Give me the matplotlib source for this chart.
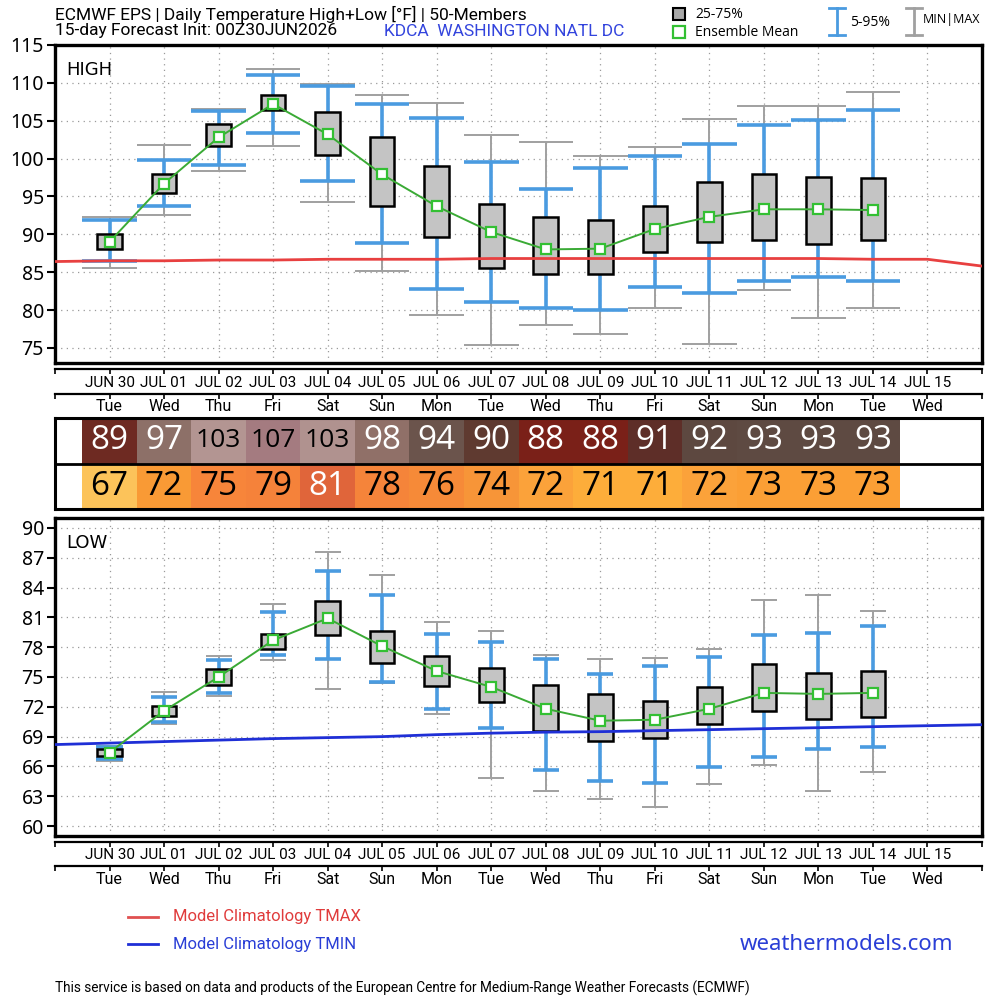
import numpy as np
import matplotlib
matplotlib.use("Agg")
import matplotlib.pyplot as plt

# ---- data ----
dates = ['JUN 30', 'JUL 01', 'JUL 02', 'JUL 03', 'JUL 04', 'JUL 05', 'JUL 06', 'JUL 07',
         'JUL 08', 'JUL 09', 'JUL 10', 'JUL 11', 'JUL 12', 'JUL 13', 'JUL 14', 'JUL 15']
weekdays = ['Tue', 'Wed', 'Thu', 'Fri', 'Sat', 'Sun', 'Mon', 'Tue',
            'Wed', 'Thu', 'Fri', 'Sat', 'Sun', 'Mon', 'Tue', 'Wed']

hi_min = [85.6, 92.6, 98.3, 101.7, 94.2, 85.1, 79.3, 75.4, 78.0, 76.8, 80.3, 75.5, 82.7, 78.9, 80.2]
hi_p05 = [86.5, 93.8, 99.2, 103.4, 97.0, 88.9, 82.8, 81.0, 80.3, 80.0, 83.1, 82.2, 83.8, 84.4, 83.8]
hi_p25 = [88.1, 95.4, 101.6, 106.4, 100.5, 93.8, 89.7, 85.5, 84.7, 84.8, 87.7, 89.0, 89.3, 88.7, 89.2]
hi_p75 = [90.0, 98.0, 104.6, 108.4, 106.2, 102.9, 99.0, 94.0, 92.3, 91.9, 93.8, 96.9, 98.0, 97.5, 97.4]
hi_p95 = [91.9, 99.8, 106.3, 111.1, 109.6, 107.2, 105.3, 99.5, 96.0, 98.7, 100.4, 101.9, 104.4, 105.1, 106.4]
hi_max = [92.3, 101.8, 106.6, 111.8, 109.9, 108.4, 107.4, 103.1, 102.2, 100.4, 101.5, 105.2, 107.0, 106.9, 108.8]
hi_mean = [89.0, 96.7, 102.8, 107.2, 103.2, 97.9, 93.7, 90.3, 88.0, 88.1, 90.7, 92.3, 93.3, 93.3, 93.2]

lo_min = [66.5, 70.3, 73.1, 76.7, 73.8, 74.4, 71.3, 64.8, 63.5, 62.7, 61.9, 64.2, 66.1, 63.5, 65.4]
lo_p05 = [66.7, 70.5, 73.4, 77.2, 76.8, 74.5, 71.8, 69.9, 65.6, 64.5, 64.3, 65.9, 66.9, 67.8, 68.0]
lo_p25 = [67.1, 71.1, 74.2, 77.8, 79.2, 76.4, 74.1, 72.5, 69.6, 68.6, 68.9, 70.3, 71.6, 70.8, 71.0]
lo_p75 = [67.8, 72.1, 75.8, 79.3, 82.6, 79.6, 77.1, 75.9, 74.2, 73.3, 72.6, 74.0, 76.3, 75.4, 75.6]
lo_p95 = [68.0, 73.0, 76.7, 81.5, 85.7, 83.3, 79.3, 78.5, 76.8, 75.3, 76.1, 77.0, 79.2, 79.4, 80.1]
lo_max = [68.1, 73.5, 77.1, 82.3, 87.6, 85.3, 80.5, 79.6, 77.2, 76.8, 76.9, 77.8, 82.7, 83.3, 81.6]
lo_mean = [67.4, 71.6, 75.0, 78.7, 80.9, 78.1, 75.6, 74.0, 71.8, 70.6, 70.7, 71.8, 73.4, 73.3, 73.4]

# model climatology, days -1 .. 16
clim_days = list(range(-1, 17))
tmax_clim = [86.4, 86.5, 86.5, 86.6, 86.6, 86.7, 86.7, 86.7, 86.8, 86.8,
             86.8, 86.8, 86.8, 86.8, 86.8, 86.7, 86.7, 85.8]
tmin_clim = [68.2, 68.35, 68.5, 68.65, 68.8, 68.9, 69.0, 69.2, 69.35, 69.45,
             69.5, 69.6, 69.7, 69.8, 69.9, 70.0, 70.1, 70.2]

hi_colors = ['#6e2a22', '#8d7068', '#b39592', '#a47b80', '#b0928f', '#907068', '#6b544c',
             '#5f3a30', '#7a2018', '#7a2018', '#5e2e28', '#5d4840', '#5e4a42', '#5e4a42', '#5e4a42']
lo_colors = ['#fcc35a', '#f99a35', '#f7853a', '#f5823a', '#e0653a', '#f5843a', '#f68a38',
             '#f79538', '#fba23a', '#fdad3a', '#fdad3a', '#fba23a', '#fb9f35', '#fb9f35', '#fb9f35']

days = np.arange(len(hi_mean))

COND = ['Roboto', 'DejaVu Sans']
NUM = ['Open Sans', 'DejaVu Sans']
BLUE_W = '#4a9be0'
GRAY_W = '#a0a0a0'
GREEN = '#3aaa35'

fig = plt.figure(figsize=(10, 10), dpi=100)


def px(l, t, r, b):
    return [l / 1000, 1 - b / 1000, (r - l) / 1000, (b - t) / 1000]


def panel(ax, mn, p05, p25, p75, p95, mx, mean, clim, clim_color, yticks, ylim, label, capw):
    ax.set_xlim(-1, 16)
    ax.set_ylim(*ylim)
    ax.vlines(days, mn, mx, color=GRAY_W, lw=1.4, zorder=2)
    ax.hlines(mn, days - capw, days + capw, color=GRAY_W, lw=1.4, zorder=2)
    ax.hlines(mx, days - capw, days + capw, color=GRAY_W, lw=1.4, zorder=2)
    ax.vlines(days, p05, p95, color=BLUE_W, lw=2.6, zorder=3)
    ax.hlines(p05, days - capw, days + capw, color=BLUE_W, lw=2.6, zorder=3)
    ax.hlines(p95, days - capw, days + capw, color=BLUE_W, lw=2.6, zorder=3)
    ax.bar(days, np.array(p75) - np.array(p25), bottom=p25, width=0.45,
           color='#c4c4c4', edgecolor='black', lw=1.8, zorder=4)
    ax.plot(clim_days, clim, color=clim_color, lw=2, zorder=5)
    ax.plot(days, mean, color=GREEN, lw=1.4, marker='s', ms=7, mfc='white',
            mec='#33c033', mew=1.6, zorder=6)
    ax.set_yticks(yticks)
    ax.set_yticklabels([str(v) for v in yticks], family=['Noto Sans', 'DejaVu Sans'], fontsize=14)
    ax.set_xticks(range(16))
    ax.tick_params(axis='x', length=0, labelbottom=False)
    ax.tick_params(axis='y', length=6, width=1.5, pad=2)
    ax.grid(True, ls=(0, (1, 3.5)), color='#9a9a9a', lw=0.9)
    for s in ax.spines.values():
        s.set_linewidth(2.4)
    ax.text(0.012, 0.95, label, transform=ax.transAxes, fontsize=13, va='top', ha='left',
            family=['DejaVu Sans'])


def date_strip(ax, y0, y1, l1, d1, l2, d2):
    ax.set_xlim(-1, 16)
    ax.set_ylim(y1, y0)
    ax.axis('off')
    for ly in (l1, l2):
        ax.plot([-1, 16], [ly, ly], color='black', lw=1.6, clip_on=False)
        ax.vlines(list(range(16)) + [-1, 16], ly, ly + 5, color='black', lw=1.2, clip_on=False)
    for i in range(16):
        ax.text(i, d1, dates[i], ha='center', va='center', fontsize=11, family=COND)
        ax.text(i, d2, weekdays[i], ha='center', va='center', fontsize=11.5, family=COND)


# HIGH panel
ax_hi = fig.add_axes(px(55, 45, 982, 363))
panel(ax_hi, hi_min, hi_p05, hi_p25, hi_p75, hi_p95, hi_max, hi_mean, tmax_clim, '#e84040',
      list(range(75, 116, 5)), (73, 115), 'HIGH', 0.5)

strip1 = fig.add_axes(px(55, 363, 982, 418))
date_strip(strip1, 363, 418, 369, 383, 394, 407)

# table of rounded means
tab = fig.add_axes(px(55, 418, 982, 509))
tab.set_xlim(-1, 16)
tab.set_ylim(0, 2)
tab.bar(days, 1, bottom=1, width=1, color=hi_colors, zorder=1)
tab.bar(days, 1, bottom=0, width=1, color=lo_colors, zorder=1)
for i in days:
    hv = int(np.round(hi_mean[i]))
    lv = int(np.round(lo_mean[i]))
    hc = 'black' if hv >= 100 else 'white'
    tab.text(i, 1.5, str(hv), ha='center', va='center', color=hc,
             fontsize=19 if hv >= 100 else 24, family=NUM)
    lc = 'white' if lv >= 80 else 'black'
    tab.text(i, 0.5, str(lv), ha='center', va='center', color=lc, fontsize=24, family=NUM)
tab.axhline(1, color='black', lw=2)
tab.set_xticks([])
tab.set_yticks([])
for s in tab.spines.values():
    s.set_linewidth(2.2)

# LOW panel
ax_lo = fig.add_axes(px(55, 518, 982, 836))
panel(ax_lo, lo_min, lo_p05, lo_p25, lo_p75, lo_p95, lo_max, lo_mean, tmin_clim, '#1f2fd6',
      list(range(60, 91, 3)), (59, 91), 'LOW', 0.24)

strip2 = fig.add_axes(px(55, 836, 982, 895))
date_strip(strip2, 836, 895, 842, 855, 866, 880)

# header, legends, footer in pixel coordinates
ov = fig.add_axes([0, 0, 1, 1])
ov.set_xlim(0, 1000)
ov.set_ylim(1000, 0)
ov.axis('off')

ov.text(55, 14, 'ECMWF EPS | Daily Temperature High+Low [°F] | 50-Members',
        fontsize=12.5, family=COND, va='center')
ov.text(55, 31, '15-day Forecast Init: 00Z30JUN2026', fontsize=12.5, family=COND, va='center')
ov.text(384, 31, 'KDCA  WASHINGTON NATL DC', fontsize=12.5, family=COND, va='center',
        color='#3344dd')

ov.plot([679], [14], marker='s', ms=8, mfc='#a8a8a8', mec='black', mew=1.5)
ov.text(695, 14, '25-75%', fontsize=10, va='center', family=NUM)
ov.plot([679], [32], marker='s', ms=8, mfc='white', mec='#33c033', mew=1.6)
ov.text(695, 32, 'Ensemble Mean', fontsize=10, va='center', family=NUM)
for x, c, lw in ((837, BLUE_W, 2), (914, GRAY_W, 2)):
    ov.plot([x, x], [8, 35], color=c, lw=lw)
    ov.plot([x - 8, x + 8], [8, 8], color=c, lw=lw)
    ov.plot([x - 8, x + 8], [35, 35], color=c, lw=lw)
ov.text(850, 23, '5-95%', fontsize=10, va='center', family=NUM)
ov.text(923, 20, 'MIN|MAX', fontsize=9, va='center', family=NUM)

ov.plot([128, 158], [917, 917], color='#e05050', lw=2)
ov.text(173, 917, 'Model Climatology TMAX', color='#e03c3c', fontsize=12,
        family=COND, va='center')
ov.plot([128, 158], [944, 944], color='#1f2fd6', lw=2)
ov.text(173, 944, 'Model Climatology TMIN', color='#2a3ed6', fontsize=12,
        family=COND, va='center')
ov.text(953, 944, 'weathermodels.com', color='#2a3ed6', fontsize=16, ha='right',
        va='center', family=['Noto Sans', 'DejaVu Sans'])
ov.text(55, 988, 'This service is based on data and products of the European Centre for '
        'Medium-Range Weather Forecasts (ECMWF)', fontsize=9.8, family=COND, va='center')

fig.savefig('out.png', dpi=100)
